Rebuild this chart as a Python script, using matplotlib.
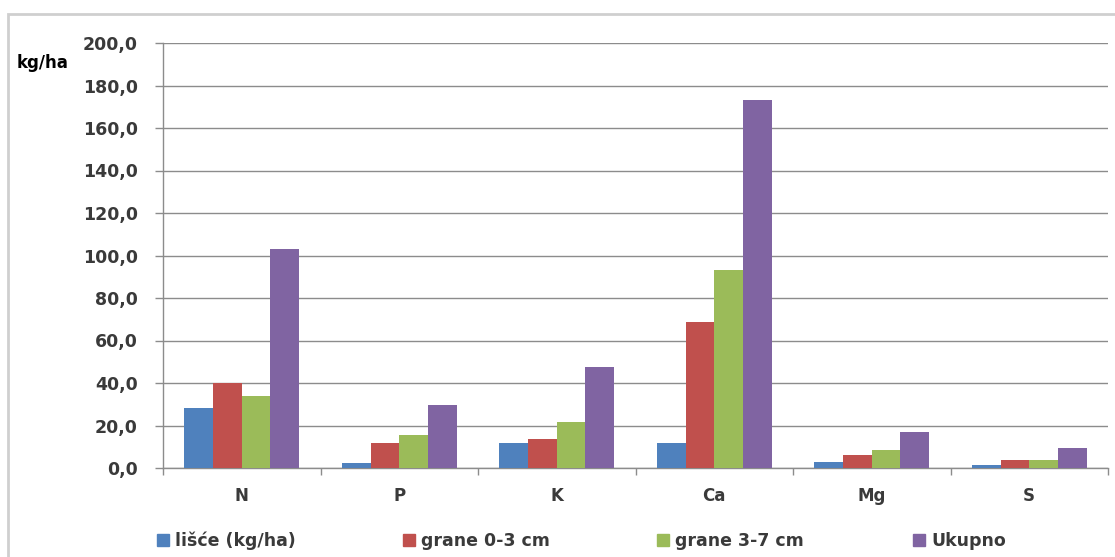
import matplotlib
matplotlib.use("Agg")
import matplotlib.pyplot as plt
from matplotlib.patches import Rectangle, Patch
from matplotlib.ticker import FuncFormatter
import numpy as np

# data (kg/ha)
elements = ["N", "P", "K", "Ca", "Mg", "S"]
series_names = ["lišće (kg/ha)", "grane 0-3 cm", "grane 3-7 cm", "Ukupno"]
lisce = [28.3, 2.2, 11.6, 11.6, 3.0, 1.4]
grane_0_3 = [40.1, 11.6, 13.5, 68.7, 6.3, 3.8]
grane_3_7 = [33.8, 15.7, 21.8, 93.2, 8.5, 3.8]
ukupno = [103.0, 29.8, 47.7, 173.0, 17.1, 9.6]
colors = ["#4F81BD", "#C0504D", "#9BBB59", "#8064A2"]

W, H = 1115, 557
fig = plt.figure(figsize=(W / 100, H / 100), dpi=100)
ax = fig.add_axes([163 / W, 1 - 468 / H, (1108 - 163) / W, (468 - 43) / H])

# outer chart frame (only left and top edges visible in the crop)
fig.patches.append(Rectangle((8 / W, -0.05), 1.2, 1.05 - 14 / H,
                             transform=fig.transFigure, fill=False,
                             edgecolor="#CFCFCF", linewidth=2))

x = np.arange(len(elements))
width = 0.1825
for i, vals in enumerate([lisce, grane_0_3, grane_3_7, ukupno]):
    ax.bar(x + (i - 1.5) * width, vals, width, color=colors[i], zorder=3)

ax.set_xlim(-0.5, len(elements) - 0.5)
ax.set_ylim(0, 200)
ax.set_yticks(np.arange(0, 201, 20))
ax.yaxis.set_major_formatter(FuncFormatter(lambda v, p: f"{v:.1f}".replace(".", ",")))
ax.grid(axis="y", color="#8C8C8C", linewidth=1, zorder=0)

for s in ["top", "right"]:
    ax.spines[s].set_visible(False)
for s in ["left", "bottom"]:
    ax.spines[s].set_color("#8C8C8C")
    ax.spines[s].set_linewidth(1)

ax.tick_params(axis="y", length=6, width=1, color="#8C8C8C", pad=12,
               labelsize=12.5, labelcolor="#3A3A3A")
for lab in ax.get_yticklabels():
    lab.set_fontweight("bold")

# boundary ticks on x, category names as minor ticks
ax.set_xticks(np.arange(-0.5, len(elements), 1))
ax.set_xticklabels([])
ax.tick_params(axis="x", which="major", length=5, width=1, color="#8C8C8C")
ax.set_xticks(x, minor=True)
ax.set_xticklabels(elements, minor=True, fontweight="bold")
ax.tick_params(axis="x", which="minor", length=0, pad=14, labelsize=12,
               labelcolor="#3A3A3A")

fig.text(17 / W, 1 - 63 / H, "kg/ha", fontsize=12, fontweight="bold",
         va="center", ha="left")

# legend entries placed one by one, as in the reference
legend_x = [157, 403, 657, 913]
for name, col, lx in zip(series_names, colors, legend_x):
    leg = fig.legend(handles=[Patch(color=col, label=name)], loc="center left",
                     bbox_to_anchor=(lx / W, 1 - 541 / H), frameon=False,
                     fontsize=12.5, handlelength=0.7, handleheight=0.7,
                     handletextpad=0.35, borderpad=0, borderaxespad=0)
    for t in leg.get_texts():
        t.set_fontweight("bold")
        t.set_color("#3A3A3A")

fig.savefig("out.png", dpi=100)
